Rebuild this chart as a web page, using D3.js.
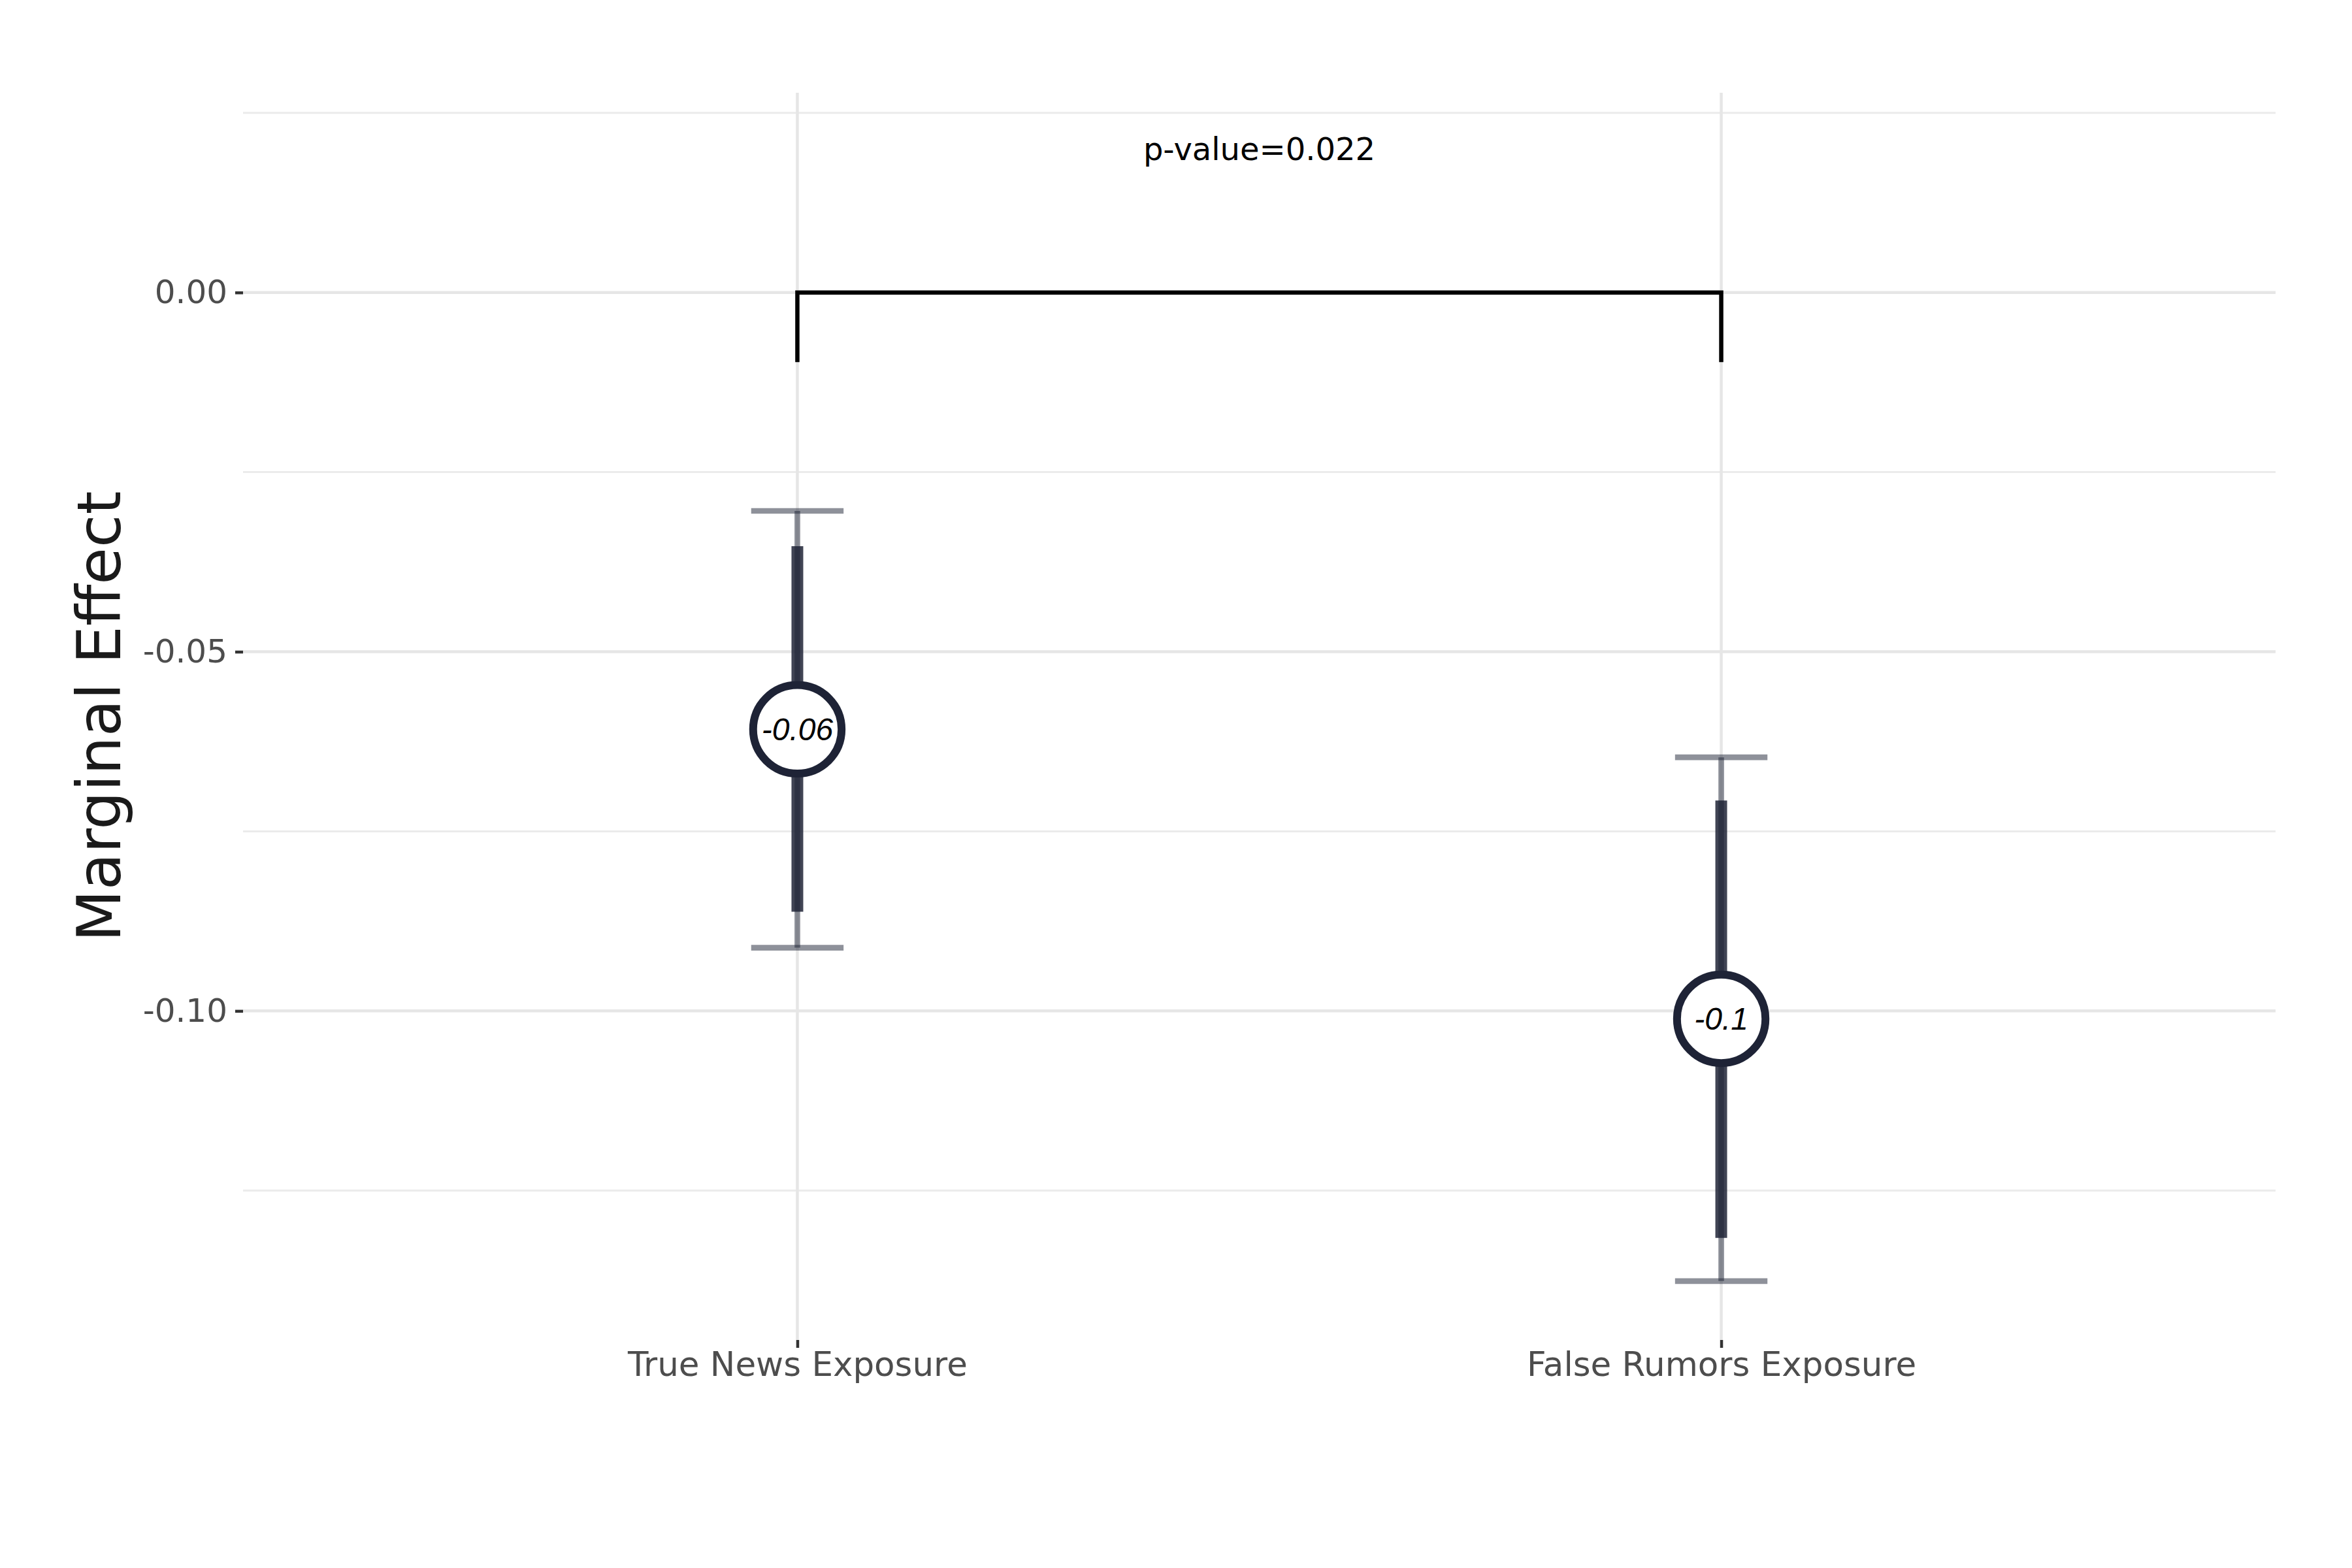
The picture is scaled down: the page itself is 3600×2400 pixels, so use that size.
<!DOCTYPE html>
<html>
<head>
<meta charset="utf-8">
<script src="https://cdn.jsdelivr.net/npm/d3@7"></script>
<style>
  html, body { margin: 0; padding: 0; background: #ffffff; }
  svg { display: block; }
</style>
</head>
<body>
<svg id="chart" width="3600" height="2400"></svg>
<script>
// ---- Data ----
const categories = ["True News Exposure", "False Rumors Exposure"];
const estimates = [-0.0608, -0.1011];
const ci95Low = [-0.0912, -0.1376];
const ci95High = [-0.0304, -0.0647];
const ci90Low = [-0.0862, -0.1316];
const ci90High = [-0.0353, -0.0707];
const yTickValues = [0, -0.05, -0.10];
const yMinorValues = [0.025, -0.025, -0.075, -0.125];
const yAxisTitle = "Marginal Effect";
const pValueLabel = "p-value=0.022";
const bracketLevel = 0;
const bracketDrop = -0.0097;
const pLabelLevel = 0.0184;

// ---- Layout ----
const panel = { left: 372, right: 3483, top: 142, bottom: 2051 };
const svg = d3.select("#chart");

const x = d3.scalePoint().domain(categories).range([panel.left, panel.right]).padding(0.6);
const y = d3.scaleLinear().domain([-0.1458, 0.0278]).range([panel.bottom, panel.top]);

const grid = svg.append("g");
grid.selectAll("line.minor").data(yMinorValues).enter().append("line")
  .attr("x1", panel.left).attr("x2", panel.right)
  .attr("y1", d => y(d)).attr("y2", d => y(d))
  .attr("stroke", "#ebebeb").attr("stroke-width", 3);
grid.selectAll("line.major").data(yTickValues).enter().append("line")
  .attr("x1", panel.left).attr("x2", panel.right)
  .attr("y1", d => y(d)).attr("y2", d => y(d))
  .attr("stroke", "#e6e6e6").attr("stroke-width", 4.5);
grid.selectAll("line.vx").data(categories).enter().append("line")
  .attr("x1", d => x(d)).attr("x2", d => x(d))
  .attr("y1", panel.top).attr("y2", panel.bottom)
  .attr("stroke", "#e6e6e6").attr("stroke-width", 4.5);

// ---- Axes ----
const yAxis = d3.axisLeft(y).tickValues(yTickValues)
  .tickFormat(d => d.toFixed(2)).tickSize(12).tickPadding(12);
const gy = svg.append("g").attr("transform", `translate(${panel.left},0)`).call(yAxis);
gy.select(".domain").remove();
gy.selectAll(".tick line").attr("stroke", "#333333").attr("stroke-width", 4.5);
gy.selectAll(".tick text").attr("fill", "#4d4d4d")
  .style("font-family", "'DejaVu Sans', sans-serif").style("font-size", "50px");

const xAxis = d3.axisBottom(x).tickSize(12).tickPadding(6);
const gx = svg.append("g").attr("transform", `translate(0,${panel.bottom})`).call(xAxis);
gx.select(".domain").remove();
gx.selectAll(".tick line").attr("stroke", "#333333").attr("stroke-width", 4.5);
gx.selectAll(".tick text").attr("fill", "#4d4d4d")
  .style("font-family", "'DejaVu Sans', sans-serif").style("font-size", "51.5px");

svg.append("text")
  .attr("transform", `translate(184,${(panel.top + panel.bottom) / 2}) rotate(-90)`)
  .attr("text-anchor", "middle")
  .attr("fill", "#1a1a1a")
  .style("font-family", "'DejaVu Sans', sans-serif").style("font-size", "92px")
  .text(yAxisTitle);

// ---- Error bars ----
const rows = categories.map((c, i) => ({
  c, est: estimates[i], lo95: ci95Low[i], hi95: ci95High[i], lo90: ci90Low[i], hi90: ci90High[i]
}));
const capHalf = x.step() * 0.05;
const navy = "#1e2336";

const eb = svg.append("g");
eb.selectAll("line.ci95").data(rows).enter().append("line")
  .attr("x1", d => x(d.c)).attr("x2", d => x(d.c))
  .attr("y1", d => y(d.hi95)).attr("y2", d => y(d.lo95))
  .attr("stroke", navy).attr("stroke-opacity", 0.5).attr("stroke-width", 8.7);
["hi95", "lo95"].forEach(k => {
  eb.selectAll("line.cap-" + k).data(rows).enter().append("line")
    .attr("x1", d => x(d.c) - capHalf).attr("x2", d => x(d.c) + capHalf)
    .attr("y1", d => y(d[k])).attr("y2", d => y(d[k]))
    .attr("stroke", navy).attr("stroke-opacity", 0.5).attr("stroke-width", 8.7);
});
eb.selectAll("line.ci90").data(rows).enter().append("line")
  .attr("x1", d => x(d.c)).attr("x2", d => x(d.c))
  .attr("y1", d => y(d.hi90)).attr("y2", d => y(d.lo90))
  .attr("stroke", navy).attr("stroke-opacity", 0.85).attr("stroke-width", 18);

eb.selectAll("circle.pt").data(rows).enter().append("circle")
  .attr("cx", d => x(d.c)).attr("cy", d => y(d.est)).attr("r", 67.7)
  .attr("fill", "#ffffff").attr("stroke", navy).attr("stroke-width", 12);
eb.selectAll("text.pt").data(rows).enter().append("text")
  .attr("x", d => x(d.c)).attr("y", d => y(d.est))
  .attr("dy", "0.35em").attr("text-anchor", "middle")
  .attr("fill", "#000000")
  .style("font-family", "'Liberation Sans', Arial, sans-serif")
  .style("font-style", "italic").style("font-size", "48px")
  .text(d => String(Math.round(d.est * 100) / 100));

// ---- Significance bracket ----
const xa = x(categories[0]), xb = x(categories[1]);
svg.append("path")
  .attr("d", d3.line()([[xa, y(bracketDrop)], [xa, y(bracketLevel)], [xb, y(bracketLevel)], [xb, y(bracketDrop)]]))
  .attr("fill", "none").attr("stroke", "#000000").attr("stroke-width", 6.5);
svg.append("text")
  .attr("x", (xa + xb) / 2).attr("y", y(pLabelLevel))
  .attr("text-anchor", "middle").attr("fill", "#000000")
  .style("font-family", "'DejaVu Sans', sans-serif").style("font-size", "48px")
  .text(pValueLabel);
</script>
</body>
</html>
